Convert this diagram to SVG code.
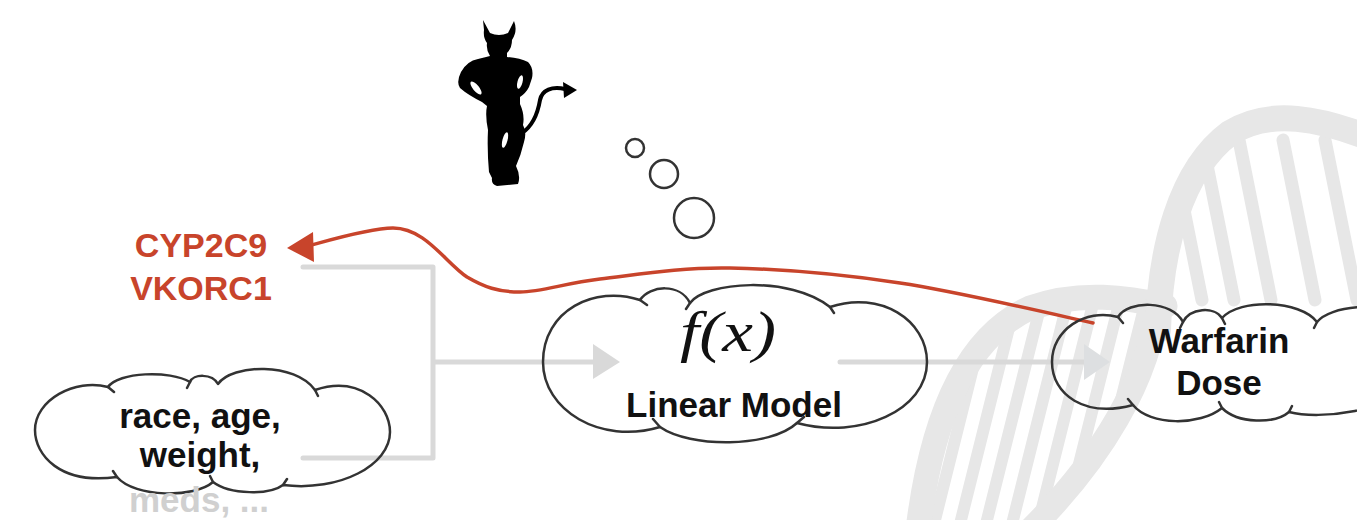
<svg xmlns="http://www.w3.org/2000/svg" width="1357" height="520" viewBox="0 0 1357 520">
  <defs>
    <style>
      .cloud { fill: none; stroke: #333; stroke-width: 2.5; stroke-linejoin: round; stroke-linecap: round; }
      .label { font-family: "Liberation Sans", Arial, sans-serif; font-weight: bold; font-size: 35px; fill: #111; text-anchor: middle; }
      .gene { font-family: "Liberation Sans", Arial, sans-serif; font-weight: bold; font-size: 34px; fill: #c8442b; text-anchor: middle; }
      .flow { fill: none; stroke: #d9d9d9; stroke-width: 5; stroke-linecap: round; stroke-linejoin: round; }
      .dna { fill: none; stroke: #e7e7e7; stroke-linecap: round; }
      .bubble { fill: none; stroke: #333; stroke-width: 2.5; }
    </style>
    <clipPath id="lowerTurn">
      <path d="M918,530 C930,430 960,340 1030,308 C1080,290 1130,298 1158,300 C1150,380 1100,460 1030,530 Z"/>
    </clipPath>
    <clipPath id="upperTurn">
      <path d="M1158,330 C1160,250 1180,170 1230,133 C1270,108 1320,118 1375,140 L1375,318 L1158,318 Z"/>
    </clipPath>
  </defs>

  <rect width="1357" height="520" fill="#fff"/>

  <!-- background double helix -->
  <g id="helix">
    <g clip-path="url(#lowerTurn)" class="dna" stroke-width="12">
      <line x1="1000" y1="260" x2="930" y2="540"/>
      <line x1="1026" y1="260" x2="956" y2="540"/>
      <line x1="1052" y1="260" x2="982" y2="540"/>
      <line x1="1078" y1="260" x2="1008" y2="540"/>
      <line x1="1104" y1="260" x2="1034" y2="540"/>
      <line x1="1130" y1="260" x2="1060" y2="540"/>
      <line x1="1156" y1="260" x2="1086" y2="540"/>
    </g>
    <g clip-path="url(#upperTurn)" class="dna" stroke-width="13">
      <line x1="1170" y1="140" x2="1202" y2="300"/>
      <line x1="1202" y1="140" x2="1234" y2="300"/>
      <line x1="1239" y1="140" x2="1271" y2="300"/>
      <line x1="1283" y1="140" x2="1315" y2="300"/>
      <line x1="1325" y1="140" x2="1357" y2="300"/>
    </g>
    <path class="dna" stroke-width="25" d="M918,530 C930,430 960,340 1030,308 C1080,290 1130,298 1165,306"/>
    <path class="dna" stroke-width="24" d="M1158,300 C1150,380 1100,460 1030,530"/>
    <path class="dna" stroke-width="26" d="M1158,330 C1160,250 1180,170 1230,133 C1270,108 1320,118 1375,140"/>
  </g>

  <!-- devil figure with a thought -->
  <g id="devil">
    <path fill="#000" d="M483,20 L490,33 Q499,37 508,33 L514,21 Q518,31 512,40 Q512,48 507,53 L507,57 Q520,58 528,62 Q534,68 532,78 L529,87 Q526,93 520,97 L520,104 Q525,115 523,125 Q527,132 524,142 Q521,155 516,166 Q521,176 518,184 L497,186 Q491,184 492,178 L489,172 Q487,150 488,130 Q485,115 487,106 L482,102 Q468,95 460,88 Q456,82 461,72 Q467,61 478,59 L490,56 Q486,50 487,43 Q483,38 484,30 Z"/>
    <ellipse cx="476" cy="88" rx="3" ry="8" transform="rotate(-40 476 88)" fill="#fff"/>
    <ellipse cx="520" cy="82" rx="2.5" ry="7" transform="rotate(15 520 82)" fill="#fff"/>
    <ellipse cx="505" cy="140" rx="2.5" ry="8" transform="rotate(15 505 140)" fill="#fff"/>
    <path d="M522,133 C534,125 538,112 540,100 C542,90 552,86 565,89" fill="none" stroke="#000" stroke-width="4" stroke-linecap="round"/>
    <polygon points="577,90 563,82 564,98" fill="#000"/>
  </g>
  <g id="thought">
    <circle class="bubble" cx="635" cy="148" r="9"/>
    <circle class="bubble" cx="664" cy="174" r="14"/>
    <circle class="bubble" cx="694" cy="218" r="20"/>
  </g>

  <!-- connectors -->
  <g id="connectors">
    <path class="flow" d="M303,267 L433,267 L433,458 L303,458 M433,362 L598,362"/>
    <polygon points="593,344 620,362 593,379" fill="#d9d9d9"/>
    <path class="flow" stroke="#dde0e3" d="M840,362 L1090,362"/>
    <polygon points="1084,344 1110,362 1084,380" fill="#dddfe1"/>
    <path fill="none" stroke="#c8442b" stroke-width="3.5" stroke-linecap="round" d="M1093,323 C1061,316 960,292 900,283 C840,274 780,269 730,268 C680,267 635,275 600,279 C565,283 542,292 520,292 C498,292 484,287 467,277 C445,262 425,228 393,228 C370,228 330,240 308,246"/>
    <polygon points="287,248 313,232 314,262" fill="#c8442b"/>
  </g>

  <!-- nodes -->
  <g id="node-genes">
    <text class="gene" x="201" y="257">CYP2C9</text>
    <text class="gene" x="201" y="300">VKORC1</text>
  </g>

  <g id="node-demographics">
    <path class="cloud" d="M117,477 C60,485 35,455 35,430 C35,400 75,378 108,387 C118,372 170,370 190,382 C193,374 212,373 218,384 C232,364 295,362 315,390 C360,375 390,405 390,432 C390,465 340,492 283,485 C270,495 230,495 213,482 C195,498 135,498 117,477 Z"/>
    <path class="cloud" d="M108,387 L114,392 M190,382 L187,388 M315,390 L318,396 M117,477 L113,471 M213,482 L210,476 M283,485 L287,479"/>
    <text class="label" x="200" y="428">race, age,</text>
    <text class="label" x="200" y="467">weight,</text>
    <text class="label" x="199" y="512" style="fill:#d0d0d0">meds, ...</text>
  </g>

  <g id="node-linear-model">
    <path class="cloud" d="M660,427 C600,445 543,410 543,362 C543,310 595,285 640,300 C650,285 680,283 690,303 C705,282 790,275 830,307 C880,290 927,320 927,362 C927,410 860,440 797,423 C770,448 690,448 660,427 Z"/>
    <path class="cloud" d="M640,300 L647,305 M690,303 L686,309 M830,307 L834,313 M660,427 L653,419 M797,423 L804,417"/>
    <text x="680" y="351" textLength="96" lengthAdjust="spacingAndGlyphs" font-family="'Liberation Serif', 'Times New Roman', serif" font-style="italic" font-size="58" fill="#111">f(x)</text>
    <text class="label" x="734" y="417">Linear Model</text>
  </g>

  <g id="node-warfarin-dose">
    <path class="cloud" d="M1133,405 C1085,418 1052,395 1052,362 C1052,330 1085,308 1118,317 C1128,300 1172,300 1183,322 C1190,308 1214,306 1222,318 C1240,298 1300,300 1317,322 C1330,306 1380,300 1420,318 L1420,380 C1390,412 1320,420 1289,412 C1275,424 1238,424 1222,408 C1200,426 1150,426 1133,405 Z"/>
    <path class="cloud" d="M1118,317 L1123,323 M1183,322 L1180,328 M1222,318 L1225,324 M1317,322 L1314,328 M1133,405 L1128,399 M1222,408 L1219,402 M1289,412 L1292,406"/>
    <text class="label" x="1219" y="353">Warfarin</text>
    <text class="label" x="1219" y="395">Dose</text>
  </g>
</svg>
